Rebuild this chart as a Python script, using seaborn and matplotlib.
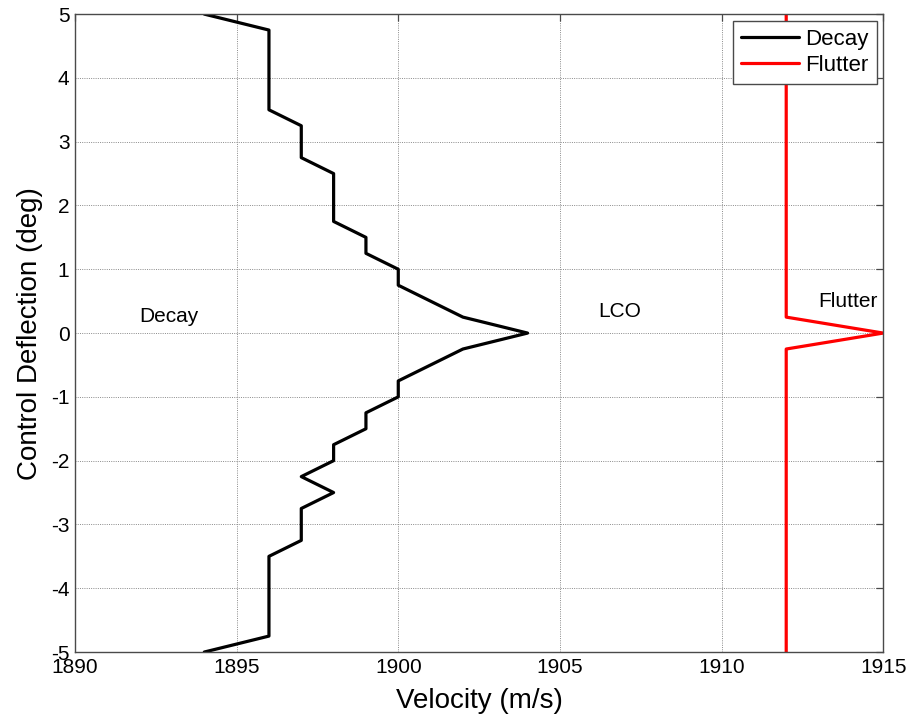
import numpy as np
import pandas as pd
import matplotlib
matplotlib.use("Agg")
import matplotlib.pyplot as plt
import seaborn as sns

# Control deflection sweep (deg)
deflection = [5.0, 4.75, 4.5, 4.25, 4.0, 3.75, 3.5, 3.25, 3.0, 2.75, 2.5, 2.25, 2.0,
              1.75, 1.5, 1.25, 1.0, 0.75, 0.5, 0.25, 0.0, -0.25, -0.5, -0.75, -1.0,
              -1.25, -1.5, -1.75, -2.0, -2.25, -2.5, -2.75, -3.0, -3.25, -3.5, -3.75,
              -4.0, -4.25, -4.5, -4.75, -5.0]

# Velocity at which oscillations decay (m/s)
decay_velocity = [1894, 1896, 1896, 1896, 1896, 1896, 1896, 1897, 1897, 1897, 1898, 1898, 1898,
                  1898, 1899, 1899, 1900, 1900, 1901, 1902, 1904, 1902, 1901, 1900, 1900,
                  1899, 1899, 1898, 1898, 1897, 1898, 1897, 1897, 1897, 1896, 1896,
                  1896, 1896, 1896, 1896, 1894]

# Velocity at flutter onset (m/s)
flutter_velocity = [1912] * 20 + [1915] + [1912] * 20

x_ticks = [1890, 1895, 1900, 1905, 1910, 1915]
y_ticks = [-5, -4, -3, -2, -1, 0, 1, 2, 3, 4, 5]

sns.set_style("white")
plt.rcParams["font.family"] = ["Liberation Sans", "DejaVu Sans"]
plt.rcParams["text.color"] = "black"
plt.rcParams["axes.labelcolor"] = "black"

fig = plt.figure(figsize=(9.2, 7.2), dpi=100)
ax = fig.add_axes([0.0815, 0.0944, 0.8785, 0.886])

df_decay = pd.DataFrame({"v": decay_velocity, "d": deflection})
df_flutter = pd.DataFrame({"v": flutter_velocity, "d": deflection})

sns.lineplot(data=df_decay, x="v", y="d", sort=False, estimator=None,
             color="black", linewidth=2.3, label="Decay", ax=ax)
sns.lineplot(data=df_flutter, x="v", y="d", sort=False, estimator=None,
             color="red", linewidth=2.3, label="Flutter", ax=ax)

ax.set_xlim(1890, 1915)
ax.set_ylim(-5, 5)
ax.set_xticks(x_ticks)
ax.set_yticks(y_ticks)
ax.set_xticklabels([str(t) for t in x_ticks])
ax.set_yticklabels([str(t) for t in y_ticks])

ax.grid(True, linestyle=(0, (1.0, 1.3)), color="#8a8a8a", linewidth=0.7)
for s in ax.spines.values():
    s.set_visible(True)
    s.set_color("#4a4a4a")
    s.set_linewidth(1.0)

ax.tick_params(axis="both", direction="in", length=5, width=0.9, color="#4a4a4a",
               labelcolor="black", labelsize=15, pad=4, top=True, right=True)

ax.set_xlabel("Velocity (m/s)", fontsize=20, labelpad=8)
ax.set_ylabel("Control Deflection (deg)", fontsize=20, labelpad=6)

ax.text(1892.9, 0.17, "Decay", fontsize=15, ha="center", va="baseline")
ax.text(1906.85, 0.25, "LCO", fontsize=15, ha="center", va="baseline")
ax.text(1913.9, 0.41, "Flutter", fontsize=15, ha="center", va="baseline")

leg = ax.legend(loc="upper right", fontsize=16, frameon=True, fancybox=False,
                edgecolor="#4a4a4a", framealpha=1, borderaxespad=0.3,
                handlelength=2.6, handletextpad=0.3, labelspacing=0.25,
                borderpad=0.35)
leg.get_frame().set_linewidth(1.0)
for t in leg.get_texts():
    t.set_color("black")

fig.savefig("out.png", dpi=100)
